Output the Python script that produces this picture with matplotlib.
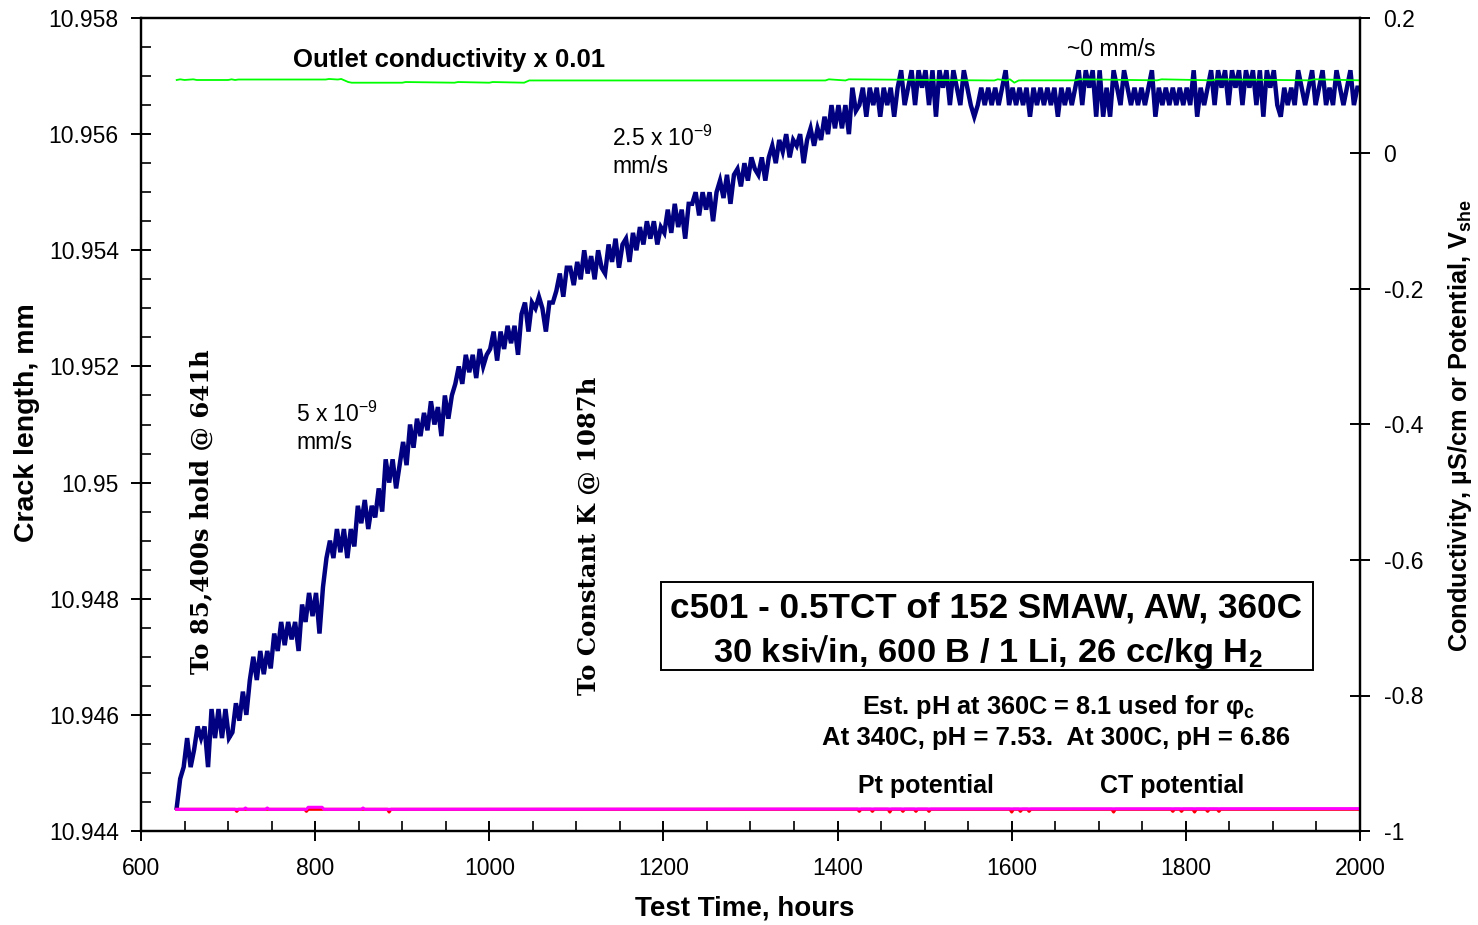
import numpy as np
import matplotlib
matplotlib.use("Agg")
import matplotlib.pyplot as plt
from matplotlib.ticker import MultipleLocator, FuncFormatter
from matplotlib.patches import Rectangle

plt.rcParams['font.family'] = ['Liberation Sans', 'DejaVu Sans']
plt.rcParams['mathtext.fontset'] = 'custom'
plt.rcParams['mathtext.rm'] = 'Liberation Sans'
plt.rcParams['mathtext.it'] = 'Liberation Sans:italic'
plt.rcParams['mathtext.bf'] = 'Liberation Sans:bold'

# crack length logged every 4 h from 641 h, stored as extension above 10.944 mm in micrometres
crack_start_h = 641
crack_step_h = 4
crack_base_mm = 10.944
crack_ext_um = [
    0.4, 0.9, 1.1, 1.6, 1.1, 1.4, 1.8, 1.6, 1.8, 1.1,
    2.1, 1.6, 2.1, 1.6, 2.1, 1.6, 1.7, 2.2, 1.9, 2.4,
    2.0, 2.6, 3.0, 2.6, 3.1, 2.7, 3.1, 2.8, 3.4, 3.1,
    3.6, 3.2, 3.6, 3.3, 3.6, 3.1, 3.9, 3.6, 4.1, 3.7,
    4.1, 3.4, 4.2, 4.7, 5.0, 4.7, 5.2, 4.8, 5.2, 4.7,
    5.2, 4.9, 5.6, 5.3, 5.7, 5.2, 5.6, 5.4, 5.9, 5.5,
    6.4, 6.0, 6.4, 5.9, 6.3, 6.7, 6.3, 7.0, 6.6, 7.1,
    6.8, 7.2, 6.9, 7.4, 7.0, 7.3, 6.8, 7.5, 7.1, 7.5,
    7.7, 8.0, 7.7, 8.2, 7.9, 8.2, 7.8, 8.3, 8.0, 8.2,
    8.3, 8.6, 8.1, 8.6, 8.3, 8.7, 8.4, 8.7, 8.2, 8.9,
    9.1, 8.6, 9.1, 9.0, 9.2, 9.0, 8.6, 9.1, 9.1, 9.3,
    9.6, 9.2, 9.7, 9.7, 9.4, 9.8, 9.5, 10.0, 9.6, 9.9,
    9.5, 10.0, 9.7, 9.6, 10.1, 9.8, 10.2, 9.7, 10.1, 10.2,
    9.8, 10.3, 10.0, 10.4, 10.1, 10.5, 10.2, 10.5, 10.1, 10.4,
    10.3, 10.7, 10.3, 10.8, 10.4, 10.7, 10.2, 10.8, 10.8, 11.0,
    10.6, 11.0, 10.7, 11.0, 10.5, 11.0, 11.2, 10.9, 11.3, 10.8,
    11.3, 11.4, 11.1, 11.5, 11.2, 11.6, 11.4, 11.3, 11.6, 11.2,
    11.6, 11.8, 11.5, 11.9, 11.7, 12.0, 11.6, 11.9, 11.8, 12.0,
    11.5, 11.9, 12.1, 11.8, 12.1, 11.9, 12.3, 12.0, 12.5, 12.1,
    12.5, 12.1, 12.5, 12.0, 12.8, 12.4, 12.5, 12.8, 12.3, 12.8,
    12.5, 12.8, 12.3, 12.8, 12.5, 12.8, 12.3, 12.8, 13.1, 12.5,
    12.8, 13.1, 12.5, 13.1, 12.8, 13.1, 12.5, 13.1, 12.3, 13.1,
    12.8, 13.1, 12.5, 13.1, 12.8, 12.5, 13.1, 12.8, 12.5, 12.3,
    12.5, 12.8, 12.5, 12.8, 12.5, 12.8, 12.5, 12.8, 13.1, 12.5,
    12.8, 12.5, 12.8, 12.5, 12.8, 12.3, 12.8, 12.5, 12.8, 12.5,
    12.8, 12.5, 12.8, 12.3, 12.8, 12.5, 12.8, 12.5, 12.8, 13.1,
    12.5, 13.1, 12.8, 13.1, 12.3, 13.1, 12.3, 12.8, 12.3, 13.1,
    12.8, 12.5, 13.1, 12.8, 12.5, 12.8, 12.5, 12.8, 12.5, 12.8,
    13.1, 12.3, 12.8, 12.5, 12.8, 12.5, 12.8, 12.5, 12.8, 12.5,
    12.8, 12.5, 13.1, 12.3, 12.8, 12.5, 12.8, 13.1, 12.5, 13.1,
    12.8, 13.1, 12.5, 13.1, 12.8, 13.1, 12.5, 13.1, 12.8, 13.1,
    12.5, 13.1, 12.3, 13.1, 12.8, 13.1, 12.5, 12.3, 12.8, 12.5,
    12.8, 12.5, 13.1, 12.8, 12.5, 12.8, 13.1, 12.5, 12.8, 13.1,
    12.5, 12.8, 12.5, 13.1, 12.8, 12.5, 12.8, 13.1, 12.5, 12.8,
    12.8,
]

# outlet conductivity, uS/cm (plotted x 0.01 on the right axis)
cond_hours = [641, 645, 650, 660, 664, 700, 704, 708, 712, 812, 816, 826, 830, 838,
              842, 900, 904, 960, 964, 1000, 1004, 1040, 1046, 1386, 1390, 1409, 1413,
              1580, 1584, 1594, 1598, 1603, 1608, 1612, 1673, 1678, 1767, 1772, 1830,
              1835, 1942, 1948, 2000]
cond_uS = [10.85, 10.95, 10.85, 10.95, 10.85, 10.85, 10.95, 10.85, 10.92, 10.92, 11.0,
           10.92, 11.0, 10.55, 10.45, 10.45, 10.55, 10.45, 10.55, 10.45, 10.55, 10.45,
           10.78, 10.78, 10.95, 10.78, 10.95, 10.78, 10.95, 10.78, 10.95, 10.45, 10.78,
           10.8, 10.8, 10.95, 10.8, 10.95, 10.8, 10.95, 10.8, 10.95, 10.8]

# Pt potential, V_she
pt_hours = [641, 708, 710, 712, 788, 790, 792, 883, 885, 887, 1423, 1425, 1427,
            1438, 1440, 1442, 1458, 1460, 1462, 1473, 1475, 1477, 1488, 1490, 1492,
            1503, 1505, 1507, 1598, 1600, 1602, 1608, 1610, 1612, 1618, 1620, 1622,
            1715, 1717, 1719, 1783, 1785, 1787, 1793, 1795, 1797, 1808, 1810, 1812,
            1823, 1825, 1827, 1836, 1838, 1840, 2000]
pt_pot = [-0.968, -0.968, -0.971, -0.968, -0.968, -0.971, -0.968, -0.968, -0.972,
          -0.968, -0.968, -0.971, -0.968, -0.968, -0.971, -0.968, -0.968, -0.972,
          -0.968, -0.968, -0.971, -0.968, -0.968, -0.971, -0.968, -0.968, -0.971,
          -0.968, -0.968, -0.972, -0.968, -0.968, -0.971, -0.968, -0.968, -0.971,
          -0.968, -0.968, -0.972, -0.968, -0.968, -0.971, -0.968, -0.968, -0.971,
          -0.968, -0.968, -0.972, -0.968, -0.968, -0.971, -0.968, -0.968, -0.971,
          -0.968, -0.968]

# CT potential, V_she
ct_hours = [641, 718, 720, 722, 743, 745, 747, 790, 792, 808, 810, 853, 855, 857,
            2000]
ct_pot = [-0.968, -0.968, -0.966, -0.968, -0.968, -0.966, -0.968, -0.968, -0.965,
          -0.965, -0.968, -0.968, -0.966, -0.968, -0.967]

W, H = 1478, 925


def fx(px):
    return px / W


def fy(py):
    return 1 - py / H


fig = plt.figure(figsize=(W / 100, H / 100), dpi=100)
ax = fig.add_axes([fx(141), fy(831), (1360 - 141) / W, (831 - 18) / H])
ax2 = ax.twinx()

hours = np.arange(crack_start_h, crack_start_h + crack_step_h * len(crack_ext_um), crack_step_h)
crack_mm = crack_base_mm + np.array(crack_ext_um) / 1000.0
ax.plot(hours, crack_mm, color='#000080', lw=3.2, solid_joinstyle='miter')

ax2.plot(pt_hours, pt_pot, color='#ff0000', lw=2.2)
ax2.plot(ct_hours, ct_pot, color='#ff00ff', lw=2.2)
ax2.plot(cond_hours, np.array(cond_uS) * 0.01, color='#00ff00', lw=1.3)

ax.set_xlim(600, 2000)
ax.set_ylim(10.944, 10.958)
ax2.set_ylim(-1, 0.2)

ax.xaxis.set_major_locator(MultipleLocator(200))
ax.xaxis.set_minor_locator(MultipleLocator(50))
ax.yaxis.set_major_locator(MultipleLocator(0.002))
ax.yaxis.set_minor_locator(MultipleLocator(0.0005))
ax2.yaxis.set_major_locator(MultipleLocator(0.2))

ax.yaxis.set_major_formatter(FuncFormatter(lambda v, p: f'{v:.3f}'.rstrip('0')))
ax2.yaxis.set_major_formatter(FuncFormatter(lambda v, p: f'{round(v, 1) + 0.0:g}'))

for a in (ax, ax2):
    for s in a.spines.values():
        s.set_linewidth(1.6)
ax.tick_params(which='major', direction='inout', length=14, width=1.4, labelsize=16.5, pad=9)
ax.tick_params(which='minor', direction='in', length=7, width=1.2)
ax.tick_params(axis='x', which='major', pad=12)
ax2.tick_params(which='major', direction='inout', length=14, width=1.4, labelsize=16.5, pad=10)

# axis titles
fig.text(fx(745), fy(909), 'Test Time, hours', ha='center', va='center',
         fontsize=20, fontweight='bold')
fig.text(fx(27), fy(423), 'Crack length, mm', ha='center', va='center', rotation=90,
         fontsize=20.5, fontweight='bold')
fig.text(fx(1460), fy(425), r'Conductivity, µS/cm or Potential, V$_\mathbf{she}$',
         ha='center', va='center', rotation=90, fontsize=18.3, fontweight='bold')

# annotations
fig.text(fx(293), fy(60), 'Outlet conductivity x 0.01', ha='left', va='center',
         fontsize=18.5, fontweight='bold')
fig.text(fx(1067), fy(50), '~0 mm/s', ha='left', va='center', fontsize=16.5)
fig.text(fx(612), fy(152), '2.5 x 10$^{-9}$\nmm/s', ha='left', va='center',
         fontsize=16.5, linespacing=1.25)
fig.text(fx(296), fy(428), '5 x 10$^{-9}$\nmm/s', ha='left', va='center',
         fontsize=16.5, linespacing=1.25)
fig.text(fx(202), fy(512), 'To 85,400s hold @ 641h', ha='center', va='center',
         rotation=90, fontsize=17.5, fontweight='bold', family='DejaVu Serif')
fig.text(fx(589), fy(536), 'To Constant K @ 1087h', ha='center', va='center',
         rotation=90, fontsize=17.5, fontweight='bold', family='DejaVu Serif')

fig.patches.append(Rectangle((fx(661), fy(670)), (1313 - 661) / W, (670 - 582) / H,
                             transform=fig.transFigure, fill=False, lw=1.4,
                             edgecolor='black'))
fig.text(fx(986), fy(608), 'c501 - 0.5TCT of 152 SMAW, AW, 360C', ha='center',
         va='center', fontsize=25.3, fontweight='bold')
fig.text(fx(988), fy(652), r'30 ksi√in, 600 B / 1 Li, 26 cc/kg H$_\mathbf{2}$',
         ha='center', va='center', fontsize=24.8, fontweight='bold')

fig.text(fx(1058), fy(707), r'Est. pH at 360C = 8.1 used for φ$_\mathbf{c}$',
         ha='center', va='center', fontsize=18.3, fontweight='bold')
fig.text(fx(1056), fy(738), 'At 340C, pH = 7.53.  At 300C, pH = 6.86',
         ha='center', va='center', fontsize=18.5, fontweight='bold')
fig.text(fx(858), fy(786), 'Pt potential', ha='left', va='center',
         fontsize=18, fontweight='bold')
fig.text(fx(1100), fy(786), 'CT potential', ha='left', va='center',
         fontsize=18, fontweight='bold')

fig.savefig('out.png', dpi=100, facecolor='white')
